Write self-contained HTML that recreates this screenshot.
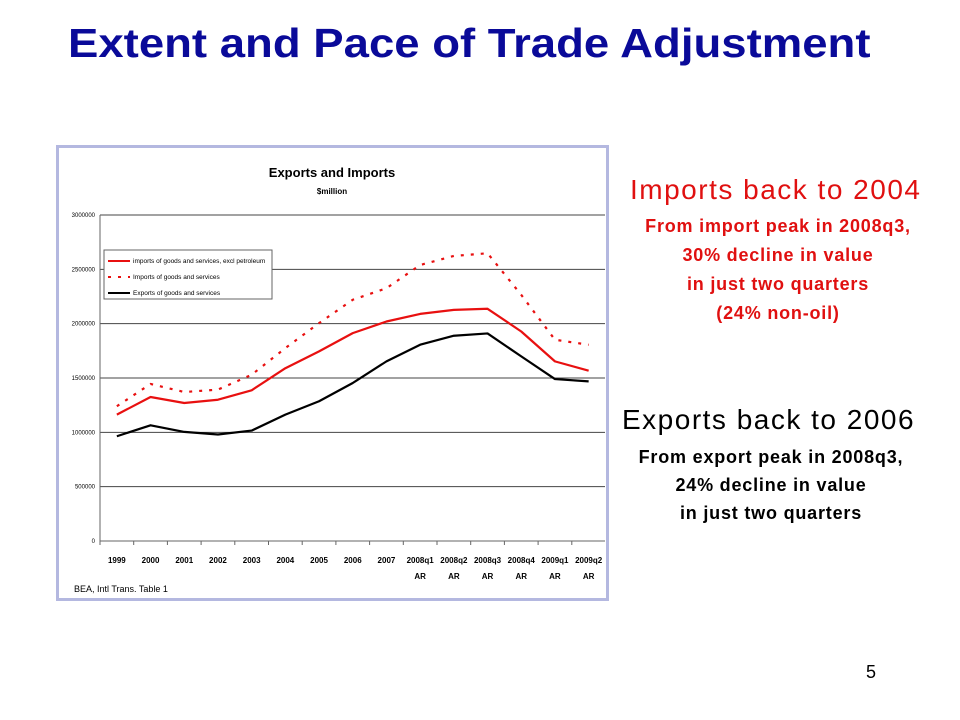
<!DOCTYPE html>
<html><head><meta charset="utf-8"><style>
body{margin:0;width:960px;height:720px;background:#fff;position:relative;overflow:hidden;font-family:"Liberation Sans",sans-serif}
.t{position:absolute;white-space:nowrap}
</style></head><body>
<div class="t" style="left:68px;top:20px;font-size:41px;font-weight:bold;color:#0a0a99;transform-origin:0 0;transform:scaleX(1.11)">Extent and Pace of Trade Adjustment</div>
<div style="position:absolute;left:56px;top:145px;width:547px;height:450px;border:3px solid #b4b8e0;background:#fff"></div>
<svg width="960" height="720" style="position:absolute;left:0;top:0">
<g id="g"></g>
</svg>
<div class="t" style="left:630px;top:174px;font-size:28px;letter-spacing:1.5px;color:#e01010">Imports back to 2004</div>
<div class="t" style="left:626px;top:212px;width:304px;text-align:center;font-size:18px;letter-spacing:0.8px;font-weight:bold;color:#e01010;line-height:29px;white-space:normal">From import peak in 2008q3,<br>30% decline in value<br>in just two quarters<br>(24% non-oil)</div>
<div class="t" style="left:622px;top:404px;font-size:28px;letter-spacing:1.5px;color:#000">Exports back to 2006</div>
<div class="t" style="left:621px;top:443px;width:300px;text-align:center;font-size:18px;letter-spacing:0.8px;font-weight:bold;color:#000;line-height:28px;white-space:normal">From export peak in 2008q3,<br>24% decline in value<br>in just two quarters</div>
<div class="t" style="left:866px;top:662px;font-size:18px">5</div>
<script>
const categories=["1999","2000","2001","2002","2003","2004","2005","2006","2007","2008q1","2008q2","2008q3","2008q4","2009q1","2009q2"];
const importsExclPetroleum=[1163000,1325000,1270000,1300000,1387000,1590000,1745000,1913000,2020000,2090000,2127000,2137000,1928000,1653000,1567000];
const importsTotal=[1240000,1445000,1371000,1393000,1530000,1775000,2005000,2220000,2326000,2540000,2623000,2648000,2265000,1852000,1806000];
const exportsTotal=[964000,1065000,1004000,980000,1016000,1163000,1286000,1454000,1653000,1806000,1889000,1910000,1699000,1490000,1469000];
const yTicks=[0,500000,1000000,1500000,2000000,2500000,3000000];
const NS="http://www.w3.org/2000/svg";
const g=document.getElementById('g');
const X0=100,STEP=33.7,Y0=541,Y3=215;
const xs=i=>X0+STEP*(i+0.5);
const ys=v=>Y0-(v/3000000)*(Y0-Y3);
function mk(t,a){const e=document.createElementNS(NS,t);for(const k in a)e.setAttribute(k,a[k]);g.appendChild(e);return e;}
function tx(x,y,s,sz,anchor,w){const e=mk('text',{x:x,y:y,'font-size':sz,'text-anchor':anchor,'font-weight':w||'normal','font-family':'Liberation Sans, sans-serif'});e.textContent=s;return e;}
let e=tx(332,177,"Exports and Imports",13,'middle','bold');

e=tx(332,194,"$million",8,'middle','bold');

yTicks.forEach(v=>{
 const l=mk('line',{x1:X0,x2:605,y1:ys(v),y2:ys(v),stroke:v===0?'#666':'#444','stroke-width':1});
 
 const t=tx(95,ys(v)+2,String(v),6,'end');
 
});
const ax=mk('line',{x1:X0,x2:X0,y1:Y3,y2:Y0,stroke:'#666'});

categories.forEach((c,i)=>{
 const tk=mk('line',{x1:X0+STEP*i,x2:X0+STEP*i,y1:Y0,y2:Y0+4,stroke:'#666'});
 
 const parts=c.length>4?[c,"AR"]:[c];
 parts.forEach((p,j)=>{const t=tx(xs(i),Y0+22+j*16,p,8,'middle','bold');
  });
});
function series(arr,col,dash,name){
 const p=mk('polyline',{points:arr.map((v,i)=>xs(i)+','+ys(v)).join(' '),fill:'none',stroke:col,'stroke-width':2.2,'stroke-dasharray':dash||'none','stroke-linejoin':'round'});
 
}
series(importsTotal,'#e81010','3,7','imports-total-line');
series(importsExclPetroleum,'#e81010',null,'imports-excl-petroleum-line');
series(exportsTotal,'#000',null,'exports-line');
const lb=mk('rect',{x:104,y:250,width:168,height:49,fill:'#fff',stroke:'#666'});

[["imports of goods and services, excl petroleum",'#e81010',null],["Imports of goods and services",'#e81010','3,7'],["Exports of goods and services",'#000',null]].forEach((L,i)=>{
 const y=261+i*16;
 const l=mk('line',{x1:108,x2:130,y1:y,y2:y,stroke:L[1],'stroke-width':2,'stroke-dasharray':L[2]||'none'});
 
 const t=tx(133,y+2,L[0],6.5,'start');
 
});
e=tx(74,592,"BEA, Intl Trans. Table 1",9,'start');

</script>
</body></html>
